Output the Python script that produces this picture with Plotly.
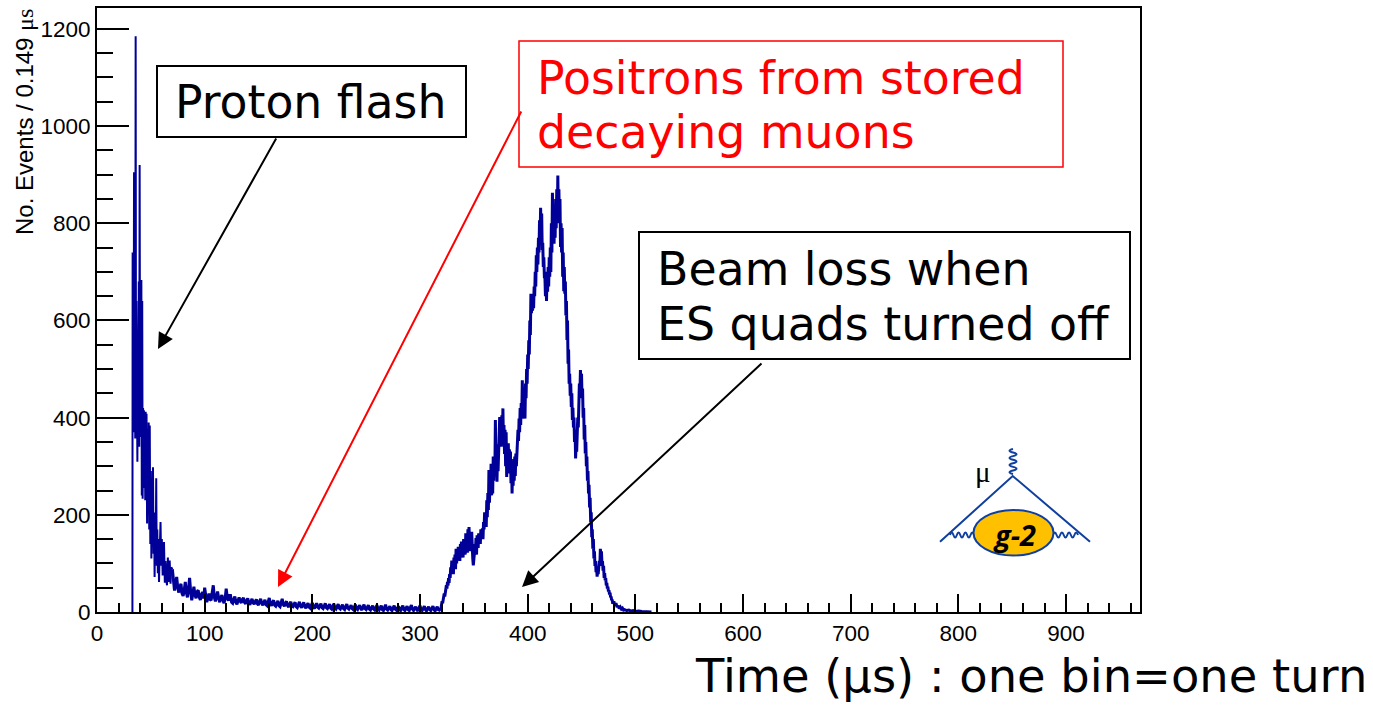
import plotly.graph_objects as go

W, H = 1373, 705
L, R, T, B = 97, 1140, 8, 612

flash_t = [32.9, 33.1, 33.4, 33.7, 34.0, 34.4, 34.8, 35.1, 35.5, 35.9, 36.2, 36.6, 37.0, 37.5, 38.0, 38.4, 38.8, 39.2, 39.6, 40.0,
           40.4, 40.8, 41.2, 41.6, 42.0, 42.4, 42.8, 43.2, 43.6, 44.0, 44.4, 44.8, 45.2, 45.6, 46.0, 46.5, 47.0, 47.5, 48.0, 48.5,
           49.0, 49.5, 50.0, 50.5, 51.0, 51.5, 52.0, 52.5, 53.0, 53.5, 54.0, 54.5, 55.0, 55.5, 56.0, 56.5, 57.0, 57.6, 58.2, 59.0,
           59.6, 60.2, 61.0, 61.6, 62.2, 63.0, 63.6, 64.2, 65.0, 65.8, 66.5, 67.5, 68.3, 69.0, 70.0]
flash_n = [0, 740, 420, 735, 400, 905, 370, 640, 357, 1185, 450, 640, 390, 309, 560, 430, 680, 340, 920, 380,
           590, 360, 683, 240, 640, 233, 420, 300, 415, 255, 400, 230, 412, 260, 408, 182, 375, 215, 390, 170,
           384, 140, 290, 110, 240, 150, 298, 120, 205, 72, 190, 110, 275, 95, 170, 80, 150, 62, 120, 185,
           95, 150, 75, 110, 144, 60, 105, 70, 55, 112, 62, 106, 58, 92, 88]

tail_n = [88, 60, 44, 58, 72, 50, 40, 52, 58, 38,
          33, 45, 62, 40, 30, 48, 70, 42, 24, 38,
          52, 35, 28, 42, 45, 30, 25, 36, 41, 28,
          50, 34, 20, 30, 38, 26, 24, 40, 55, 30,
          22, 32, 42, 28, 20, 30, 35, 24, 18, 28,
          48, 30, 23, 34, 34, 20, 18, 26, 32, 20,
          16, 24, 30, 22, 19, 26, 29, 20, 17, 24,
          28, 18, 15, 22, 27, 19, 16, 22, 26, 17,
          14, 22, 27, 18, 14, 20, 25, 15, 13, 21,
          29, 17, 13, 20, 24, 14, 12, 18, 23, 13,
          11, 19, 27, 15, 12, 18, 22, 13, 10, 17,
          21, 12, 11, 16, 20, 11, 9, 15, 21, 12,
          9, 15, 20, 11, 8, 14, 18, 10, 8, 14,
          19, 10, 7, 13, 18, 10, 8, 13, 17, 9,
          7, 12, 18, 9, 7, 12, 16, 8, 6, 12,
          17, 8, 6, 11, 16, 8, 6, 11, 15, 7,
          5, 11, 16, 8, 6, 10, 14, 7, 5, 10,
          15, 7, 5, 10, 14, 7, 4, 10, 15, 7,
          5, 9, 14, 6, 4, 9, 13, 6, 4, 9,
          14, 6, 4, 9, 13, 5, 3, 9, 15, 6,
          4, 8, 12, 5, 3, 8, 13, 6, 4, 8,
          12, 5, 3, 8, 13, 5, 3, 8, 12, 5,
          3, 9, 14, 6, 3, 7, 11, 5, 2, 8,
          13, 5, 3, 7, 12, 5, 2, 7, 11, 5,
          3, 7, 12, 5, 2, 7, 11, 5, 4]
tail_t = [70 + i for i in range(len(tail_n))]

peak_n = [8, 14, 22, 18, 30, 26, 38, 32, 45, 40, 55, 48, 62, 54, 70, 60, 78, 70, 92, 80,
          106, 88, 100, 78, 112, 95, 118, 88, 130, 100, 125, 108, 134, 112, 128, 105, 140, 118, 145, 120,
          135, 112, 150, 125, 145, 118, 162, 130, 155, 122, 170, 138, 175, 148, 125, 160, 138, 165, 120, 110,
          96, 105, 120, 140, 128, 152, 118, 158, 140, 132, 162, 145, 158, 140, 170, 150, 165, 172, 150, 185,
          170, 205, 182, 198, 175, 230, 195, 245, 210, 292, 225, 270, 244, 305, 240, 300, 244, 320, 270, 310,
          280, 395, 300, 345, 268, 330, 290, 355, 330, 401, 350, 395, 340, 405, 360, 419, 345, 385, 325, 375,
          300, 370, 278, 340, 300, 347, 285, 335, 300, 330, 265, 310, 244, 300, 260, 315, 270, 320, 280, 326,
          300, 340, 326, 375, 352, 398, 370, 420, 385, 430, 400, 477, 420, 455, 398, 430, 398, 470, 440, 500,
          470, 530, 500, 559, 530, 600, 570, 655, 615, 650, 620, 642, 625, 670, 650, 700, 670, 734, 700, 750,
          715, 770, 740, 806, 760, 832, 790, 820, 745, 760, 710, 730, 690, 690, 650, 700, 640, 700, 659, 710,
          670, 730, 690, 750, 700, 800, 740, 863, 760, 800, 758, 820, 770, 850, 790, 870, 800, 898, 810, 870,
          800, 850, 751, 800, 740, 790, 690, 740, 660, 710, 655, 680, 610, 640, 560, 600, 511, 540, 470, 490,
          445, 470, 422, 450, 395, 420, 380, 400, 350, 375, 316, 345, 330, 370, 400, 380, 440, 470, 450, 498,
          470, 490, 440, 460, 400, 420, 355, 385, 326, 350, 300, 320, 270, 290, 244, 262, 215, 235, 185, 205,
          154, 170, 130, 150, 110, 125, 95, 105, 82, 90, 73, 85, 78, 100, 105, 95, 130, 115, 125, 100,
          105, 85, 95, 70, 80, 65, 70, 55, 60, 48, 52, 42, 45, 36, 40, 30, 32, 24, 26, 17]
peak_t = [319.5 + 0.5 * i for i in range(len(peak_n))]

end_t = [480, 481, 482, 483, 484, 485, 486, 487, 488, 489, 490, 492, 494, 496, 498, 500, 503, 506, 510, 515]
end_n = [22, 13, 18, 10, 13, 7, 10, 6, 8, 4, 5, 3, 4, 2, 3, 1, 2, 1, 1, 0]

x_major = list(range(0, 901, 100))
y_major = list(range(0, 1201, 200))

Y_TITLE = "No. Events / 0.149 <span style='font-family:Liberation Serif'>μs</span>"
X_TITLE = "Time (μs) : one bin=one turn"
FLASH = "Proton flash"
POSITRONS = ["Positrons from stored", "decaying muons"]
BEAM = ["Beam loss when", "ES quads turned off"]

NAVY = "#000099"
LOGO = "#0F3F9F"
FONT = "DejaVu Sans, Verdana, sans-serif"
SANS = "Liberation Sans, Arial, sans-serif"


def px(x):
    return (x - L) / (R - L)


def py(y):
    return (B - y) / (B - T)


def rect(x0, y0, x1, y1, color, width):
    return dict(type="rect", xref="paper", yref="paper", x0=px(x0), x1=px(x1), y0=py(y1), y1=py(y0),
                line=dict(color=color, width=width), fillcolor="white", layer="above")


def text(x, y, s, size, color="black", family=FONT, xanchor="left", **kw):
    return dict(xref="paper", yref="paper", x=px(x), y=py(y), text=s, showarrow=False, xanchor=xanchor,
                yanchor="middle", font=dict(size=size, color=color, family=family), borderpad=0, borderwidth=0, **kw)


def arrow(x0, y0, x1, y1, color):
    return dict(xref="paper", yref="paper", x=px(x1), y=py(y1), ax=x0 - x1, ay=y0 - y1,
                text="", showarrow=True, arrowhead=2, arrowsize=1.6, arrowwidth=2, arrowcolor=color, standoff=0)


def polyline(points):
    return " ".join(("M" if i == 0 else "L") + f"{px(x):.5f},{py(y):.5f}" for i, (x, y) in enumerate(points))


def wave_h(x0, x1, y, n, amp):
    step = (x1 - x0) / n
    s = f"M{px(x0):.5f},{py(y):.5f}"
    for i in range(n):
        cy = y + (amp if i % 2 else -amp) * 2
        s += f" Q{px(x0 + (i + 0.5) * step):.5f},{py(cy):.5f} {px(x0 + (i + 1) * step):.5f},{py(y):.5f}"
    return s


def wave_v(x, y0, y1, n, amp):
    step = (y1 - y0) / n
    s = f"M{px(x):.5f},{py(y0):.5f}"
    for i in range(n):
        cx = x + (amp if i % 2 else -amp) * 2
        s += f" Q{px(cx):.5f},{py(y0 + (i + 0.5) * step):.5f} {px(x):.5f},{py(y0 + (i + 1) * step):.5f}"
    return s


def logo_path(path):
    return dict(type="path", xref="paper", yref="paper", layer="above", line=dict(color=LOGO, width=2), path=path)


shapes = [
    rect(157, 66, 466, 137, "black", 2),
    rect(519, 41, 1063, 167, "#FF0000", 1.5),
    rect(639, 232, 1130, 359, "black", 2),
    logo_path(polyline([(940, 541.7), (1012.7, 476), (1090, 541.7)])),
    logo_path(wave_v(1013, 474, 449, 7, 3.5)),
    logo_path(wave_h(950, 974, 535, 7, 2.5)),
    logo_path(wave_h(1053, 1078, 535, 7, 2.5)),
    dict(type="circle", xref="paper", yref="paper", layer="above", x0=px(973.5), x1=px(1053.5),
         y0=py(555.5), y1=py(510), fillcolor="#FFC000", line=dict(color=LOGO, width=2)),
]

annotations = [
    arrow(277, 137, 158, 349, "black"),
    arrow(522, 110, 278, 587, "#FF0000"),
    arrow(763, 362, 522, 587, "black"),
    text(175, 102, FLASH, 45.7),
    text(537, 78, POSITRONS[0], 45.8, "#FF0000"),
    text(537, 132, POSITRONS[1], 45.8, "#FF0000"),
    text(657, 269, BEAM[0], 45.8),
    text(657, 324, BEAM[1], 45.8),
    text(695, 676, X_TITLE, 46.4),
    text(1014, 534, "<b><i>g-2</i></b>", 29, family="Open Sans, sans-serif", xanchor="center"),
    text(983, 472, "μ", 29, family="Liberation Serif, serif", xanchor="center"),
    dict(xref="paper", yref="paper", x=px(25), y=py(122), text=Y_TITLE, showarrow=False, textangle=-90,
         xanchor="center", yanchor="middle", font=dict(size=24, color="black", family=SANS)),
]

fig = go.Figure()
fig.add_trace(go.Scatter(x=flash_t, y=flash_n, mode="lines", line=dict(color=NAVY, width=2),
                         hoverinfo="skip", showlegend=False))
fig.add_trace(go.Scatter(x=tail_t + peak_t + end_t, y=tail_n + peak_n + end_n, mode="lines",
                         line=dict(color=NAVY, width=3), hoverinfo="skip", showlegend=False))

fig.update_layout(
    width=W, height=H, margin=dict(l=L, r=W - R, t=T, b=H - B, pad=0),
    paper_bgcolor="white", plot_bgcolor="white",
    font=dict(family=SANS, size=22.5, color="black"),
    shapes=shapes, annotations=annotations,
)
fig.update_xaxes(range=[0, 968.7], tickvals=x_major, ticks="inside", ticklen=18, tickwidth=1.5, tickcolor="black",
                 showgrid=False, zeroline=False, showline=True, linecolor="black", linewidth=2, mirror=True,
                 automargin=False,
                 minor=dict(dtick=20, tick0=0, ticks="inside", ticklen=9, tickwidth=1.5, tickcolor="black", showgrid=False))
fig.update_yaxes(range=[0, 1243], tickvals=y_major, ticks="inside", ticklen=32, tickwidth=1.5, tickcolor="black",
                 showgrid=False, zeroline=False, showline=True, linecolor="black", linewidth=2, mirror=True,
                 automargin=False,
                 minor=dict(dtick=50, tick0=0, ticks="inside", ticklen=16, tickwidth=1.5, tickcolor="black", showgrid=False))

fig.write_html("out.html", config=dict(displayModeBar=False), post_script="document.body.style.margin='0';")
